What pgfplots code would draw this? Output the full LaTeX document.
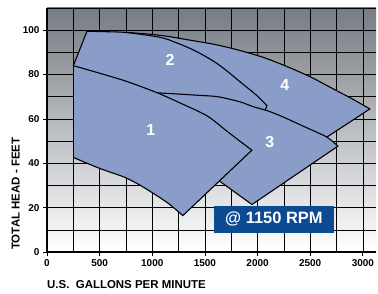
\documentclass[border=0pt]{standalone}
\usepackage{pgfplots}
\pgfplotsset{compat=1.18}
\usepackage{fontspec}
\setmainfont{Liberation Sans}
\definecolor{regfill}{RGB}{137,157,200}
\definecolor{bgtop}{RGB}{118,124,132}
\definecolor{rpmblue}{RGB}{12,74,145}
\begin{document}
\begin{tikzpicture}
\begin{axis}[
  scale only axis, width=329bp, height=244bp,
  xmin=0, xmax=3125, ymin=0, ymax=110,
  axis x line=bottom, axis y line=left,
  axis line style={-, line width=1.2pt, black},
  xtick={0,500,...,3000}, ytick={0,20,...,100},
  minor xtick={250,750,...,2750}, minor ytick={10,30,...,110},
  grid=both,
  major grid style={black, line width=0.6pt},
  minor grid style={black, line width=0.6pt},
  tick align=outside, major tick length=4bp, minor tick length=0pt,
  tick style={black, line width=0.8pt},
  ticklabel style={font=\fontsize{10}{11}\selectfont\bfseries},
  /pgf/number format/assume math mode=true,
  scaled ticks=false,
  xticklabel style={/pgf/number format/1000 sep={}},
  axis background/.style={top color=bgtop, bottom color=white},
  edge/.style={black, line width=1.1pt, line cap=round, line join=round},
  curve/.style={black, line width=1.1pt, line cap=round, smooth, tension=0.5},
  region/.style={fill=regfill, draw=none},
]
% Region 4
\addplot[region] coordinates {(760,99) (1073,97.7) (1358,95.5) (1600,93.5) (1804,91.2) (2050,87.8) (2279,83.6) (2500,79) (2716,73.6) (2900,69) (3067,64.5)
  (2658,51.8) (2000,58) (1300,80)} -- cycle;
\addplot[curve] coordinates {(760,99) (1073,97.7) (1358,95.5) (1600,93.5) (1804,91.2) (2050,87.8) (2279,83.6) (2500,79) (2716,73.6) (2900,69) (3067,64.5)};
\addplot[edge] coordinates {(3067,64.5) (2658,51.8)};
% Region 2
\addplot[region] coordinates {(250,84) (380,99.5) (570,99.3) (760,98.9) (1073,96.8) (1220,94.5) (1358,91.8) (1490,88.6) (1614,85) (1720,81.2) (1832,76.8) (1910,73.8) (1994,70.5) (2089,66) (2070,63.6)
  (1500,60) (1000,65) (300,78)} -- cycle;
\addplot[edge] coordinates {(250,84) (380,99.5)};
\addplot[curve] coordinates {(380,99.5) (570,99.3) (760,98.9) (1073,96.8) (1220,94.5) (1358,91.8) (1490,88.6) (1614,85) (1720,81.2) (1832,76.8) (1910,73.8) (1994,70.5) (2089,66)};
\addplot[edge] coordinates {(2089,66) (2070,63.6)};
% Region 3
\addplot[region] coordinates {(1035,71.8) (1250,71.2) (1450,70.6) (1623,70) (1832,67.7) (1960,65.5) (2098,63.6) (2241,60.9) (2449,56.4) (2658,51.8) (2763,47.7)
  (1947,21.4) (1643,31.8) (1400,45)} -- cycle;
\addplot[curve] coordinates {(1035,71.8) (1250,71.2) (1450,70.6) (1623,70) (1832,67.7) (1960,65.5) (2098,63.6) (2241,60.9) (2449,56.4) (2658,51.8) (2763,47.7)};
\addplot[edge] coordinates {(2763,47.7) (1947,21.4) (1643,31.8)};
% Region 1
\addplot[region] coordinates {(250,42.7) (250,84) (500,80.6) (750,77) (1035,72) (1250,67.5) (1519,61.4) (1700,54.8) (1804,51) (1946,45.9)
  (1290,16.4) (1150,22) (997,26.8) (870,30.5) (741,33.6) (600,36) (484,38) (350,40.6)} -- cycle;
\addplot[edge] coordinates {(250,42.7) (250,84)};
\addplot[curve] coordinates {(250,84) (500,80.6) (750,77) (1035,72) (1250,67.5) (1519,61.4) (1700,54.8) (1804,51) (1946,45.9)};
\addplot[edge] coordinates {(1946,45.9) (1290,16.4)};
\addplot[curve] coordinates {(1290,16.4) (1150,22) (997,26.8) (870,30.5) (741,33.6) (600,36) (484,38) (350,40.6) (250,42.7)};
\node[text=white, font=\fontsize{16}{16}\selectfont\bfseries] at (axis cs:987,55) {1};
\node[text=white, font=\fontsize{16}{16}\selectfont\bfseries] at (axis cs:1168,86.8) {2};
\node[text=white, font=\fontsize{16}{16}\selectfont\bfseries] at (axis cs:2117,49.5) {3};
\node[text=white, font=\fontsize{16}{16}\selectfont\bfseries] at (axis cs:2259,75.5) {4};
\node[fill=rpmblue, text=white, minimum width=120bp, minimum height=27bp, inner sep=0pt,
  font=\fontsize{16.5}{16.5}\selectfont\bfseries] at (axis cs:2155,14.8) {@ 1150 RPM};
\end{axis}
\node[anchor=base west, inner sep=0pt, font=\fontsize{11.5}{12}\selectfont\bfseries] at (0bp,-36.5bp) {U.S.\ \ GALLONS PER MINUTE};
\node[rotate=90, anchor=base west, inner sep=0pt, font=\fontsize{11.5}{12}\selectfont\bfseries] at (-27.5bp,2bp) {TOTAL HEAD - FEET};
\pgfresetboundingbox
\useasboundingbox (-47bp,-42bp) rectangle (331bp,252bp);
\end{tikzpicture}
\end{document}
